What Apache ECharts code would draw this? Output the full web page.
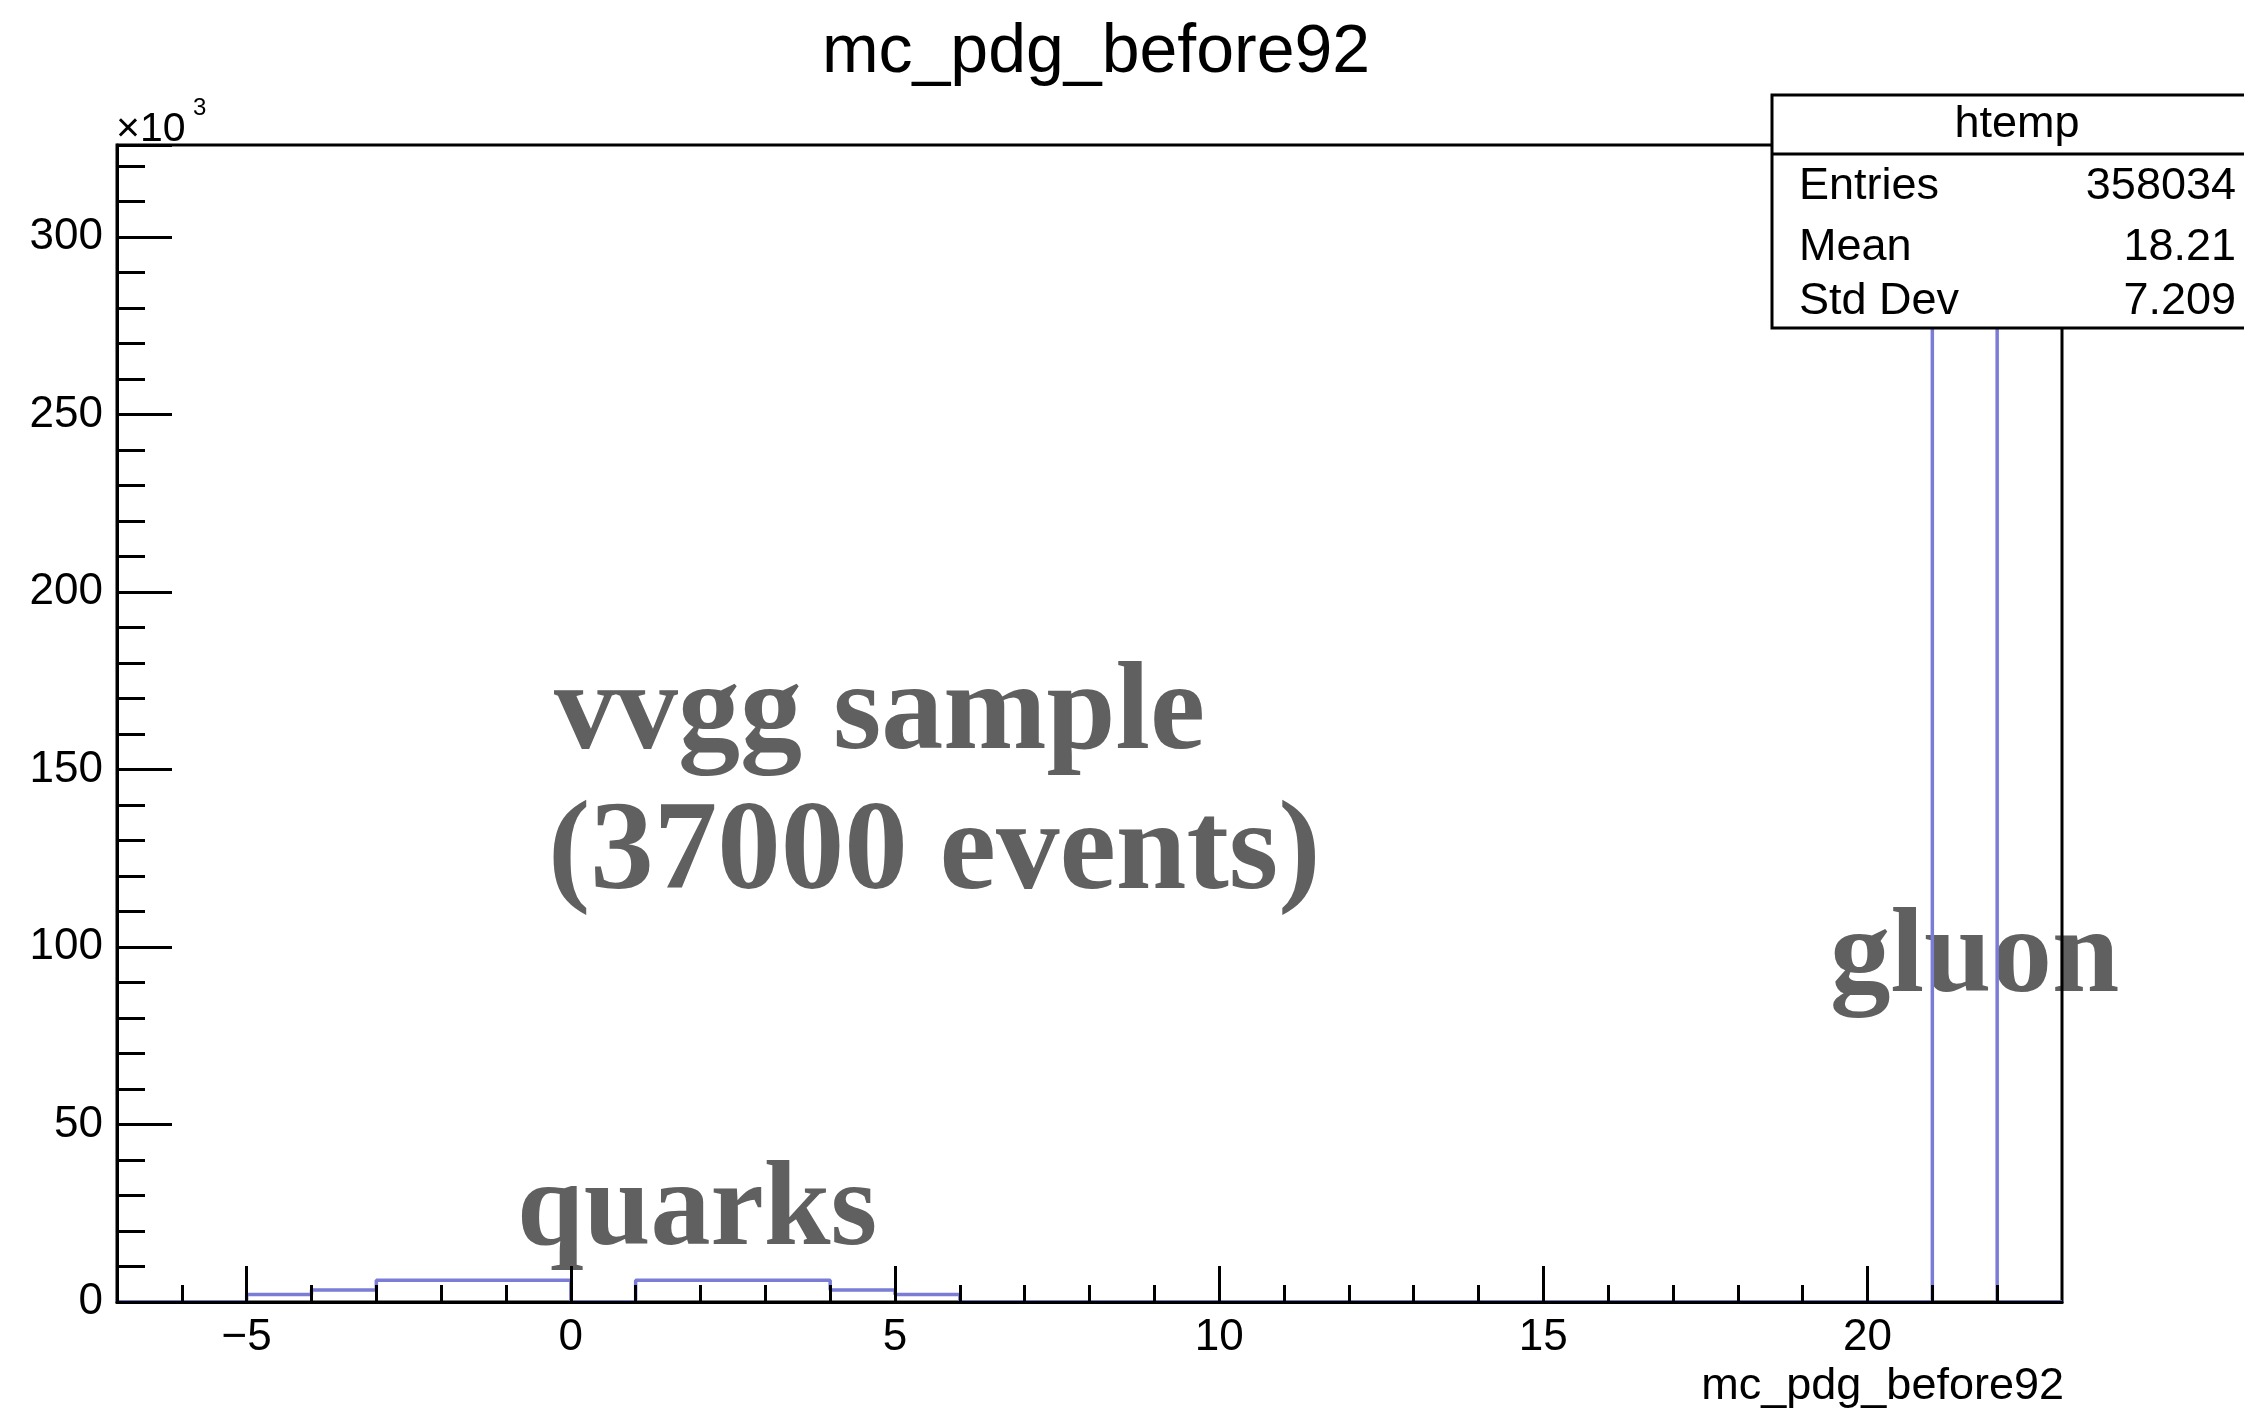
<!DOCTYPE html>
<html>
<head>
<meta charset="utf-8">
<script src="https://cdn.jsdelivr.net/npm/echarts@6.0.0/dist/echarts.min.js"></script>
<style>
html,body{margin:0;padding:0;background:#fff;}
#chart{width:2244px;height:1409px;}
</style>
</head>
<body>
<div id="chart"></div>
<script>
// ---- data ----
const pdgValues = [-5, -4, -3, -2, -1, 1, 2, 3, 4, 5, 21];
const pdgCounts = [2100, 3400, 6100, 6100, 6100, 6100, 6100, 6100, 3400, 2100, 310434];
const binLowEdge = -7;
const binHighEdge = 23;
const xMajorTicks = [-5, 0, 5, 10, 15, 20];
const xMinorTicks = [-6, -4, -3, -2, -1, 1, 2, 3, 4, 6, 7, 8, 9, 11, 12, 13, 14, 16, 17, 18, 19, 21, 22];
const yTickInterval = 50000;
const statsLabels = ['Entries', 'Mean', 'Std Dev'];
const statsValues = ['358034', '18.21', '7.209'];
const titleText = 'mc_pdg_before92';
const xTitle = 'mc_pdg_before92';

// ---- build step outline from bins of width 1 ----
const countMap = {};
pdgValues.forEach((v, i) => { countMap[v] = pdgCounts[i]; });
const stepData = [];
for (let e = binLowEdge; e < binHighEdge; e++) {
  stepData.push([e, countMap[e] || 0]);
}
stepData.push([binHighEdge, 0]);
const yMax = Math.max(...pdgCounts) * 1.05;

const SANS = '"Liberation Sans", Arial, Helvetica, sans-serif';
const SERIF = '"Liberation Serif", "Times New Roman", serif';
const GRID = {left: 117, top: 145, width: 1945, height: 1157};
const HIST_COLOR = '#7a7cd6';
const ANN_COLOR = '#606060';

const chart = echarts.init(document.getElementById('chart'), null, {renderer: 'canvas'});

const xBase = {
  type: 'value', min: binLowEdge, max: binHighEdge, position: 'bottom',
  splitLine: {show: false}, z: 10
};

chart.setOption({
  animation: false,
  backgroundColor: '#fff',
  grid: Object.assign({show: true, borderColor: '#000', borderWidth: 3, backgroundColor: 'transparent', containLabel: false}, GRID),
  xAxis: [
    Object.assign({}, xBase, {
      axisLine: {show: true, lineStyle: {color: '#000', width: 3}},
      axisTick: {show: true, inside: true, length: 36, customValues: xMajorTicks, lineStyle: {color: '#000', width: 3}},
      axisLabel: {show: true, customValues: xMajorTicks, margin: 14, fontSize: 44, color: '#000', fontFamily: SANS,
        formatter: v => String(v).replace('-', '\u2212')}
    }),
    Object.assign({}, xBase, {
      axisLine: {show: false},
      axisTick: {show: true, inside: true, length: 17, customValues: xMinorTicks, lineStyle: {color: '#000', width: 3}},
      axisLabel: {show: false}
    })
  ],
  yAxis: [{
    type: 'value', min: 0, max: yMax, interval: yTickInterval, position: 'left',
    splitLine: {show: false}, z: 10,
    axisLine: {show: true, onZero: false, lineStyle: {color: '#000', width: 3}},
    axisTick: {show: true, inside: true, length: 55, lineStyle: {color: '#000', width: 3}},
    minorTick: {show: true, splitNumber: 5, length: 28, lineStyle: {color: '#000', width: 3}},
    minorSplitLine: {show: false},
    axisLabel: {show: true, showMaxLabel: false, margin: 14, fontSize: 44, color: '#000', fontFamily: SANS,
      padding: [14, 0, 0, 0],
      formatter: v => String(Math.round(v / 1000))}
  }],
  series: [{
    type: 'line',
    xAxisIndex: 0, yAxisIndex: 0,
    step: 'end',
    data: stepData,
    showSymbol: false,
    symbol: 'none',
    clip: true,
    z: 2,
    lineStyle: {color: HIST_COLOR, width: 3.5},
    emphasis: {disabled: true}
  }],
  graphic: [
    // annotations (under the histogram lines)
    {type: 'text', z: -1, style: {text: 'vvgg sample', x: 554, y: 716, fill: ANN_COLOR, font: 'bold 124px ' + SERIF, textAlign: 'left', textVerticalAlign: 'middle'}},
    {type: 'text', z: -1, style: {text: '(37000 events)', x: 548, y: 855, fill: ANN_COLOR, font: 'bold 127px ' + SERIF, textAlign: 'left', textVerticalAlign: 'middle'}},
    {type: 'text', z: -1, style: {text: 'gluon', x: 1830, y: 960, fill: ANN_COLOR, font: 'bold 121px ' + SERIF, textAlign: 'left', textVerticalAlign: 'middle'}},
    {type: 'text', z: -1, style: {text: 'quarks', x: 517, y: 1213, fill: ANN_COLOR, font: 'bold 120px ' + SERIF, textAlign: 'left', textVerticalAlign: 'middle'}},
    // title
    {type: 'text', z: 50, style: {text: titleText, x: 1096, y: 53, fill: '#000', font: '68px ' + SANS, textAlign: 'center', textVerticalAlign: 'middle'}},
    // x axis title
    {type: 'text', z: 50, style: {text: xTitle, x: 2064, y: 1387, fill: '#000', font: '45px ' + SANS, textAlign: 'right', textVerticalAlign: 'middle'}},
    // x10^3
    {type: 'text', z: 50, style: {text: '\u00d710', x: 116, y: 130, fill: '#000', font: '41px ' + SANS, textAlign: 'left', textVerticalAlign: 'middle'}},
    {type: 'text', z: 50, style: {text: '3', x: 193, y: 108, fill: '#000', font: '24px ' + SANS, textAlign: 'left', textVerticalAlign: 'middle'}},
    // stats box
    {type: 'rect', z: 100, shape: {x: 1772, y: 95, width: 520, height: 233}, style: {fill: '#fff', stroke: '#000', lineWidth: 3}},
    {type: 'line', z: 101, shape: {x1: 1772, y1: 154, x2: 2300, y2: 154}, style: {stroke: '#000', lineWidth: 3}},
    {type: 'text', z: 102, style: {text: 'htemp', x: 2017, y: 125, fill: '#000', font: '45px ' + SANS, textAlign: 'center', textVerticalAlign: 'middle'}},
    {type: 'text', z: 102, style: {text: statsLabels[0], x: 1799, y: 187, fill: '#000', font: '45px ' + SANS, textAlign: 'left', textVerticalAlign: 'middle'}},
    {type: 'text', z: 102, style: {text: statsLabels[1], x: 1799, y: 248, fill: '#000', font: '45px ' + SANS, textAlign: 'left', textVerticalAlign: 'middle'}},
    {type: 'text', z: 102, style: {text: statsLabels[2], x: 1799, y: 302, fill: '#000', font: '45px ' + SANS, textAlign: 'left', textVerticalAlign: 'middle'}},
    {type: 'text', z: 102, style: {text: statsValues[0], x: 2236, y: 187, fill: '#000', font: '45px ' + SANS, textAlign: 'right', textVerticalAlign: 'middle'}},
    {type: 'text', z: 102, style: {text: statsValues[1], x: 2236, y: 248, fill: '#000', font: '45px ' + SANS, textAlign: 'right', textVerticalAlign: 'middle'}},
    {type: 'text', z: 102, style: {text: statsValues[2], x: 2236, y: 302, fill: '#000', font: '45px ' + SANS, textAlign: 'right', textVerticalAlign: 'middle'}}
  ]
});
</script>
</body>
</html>
